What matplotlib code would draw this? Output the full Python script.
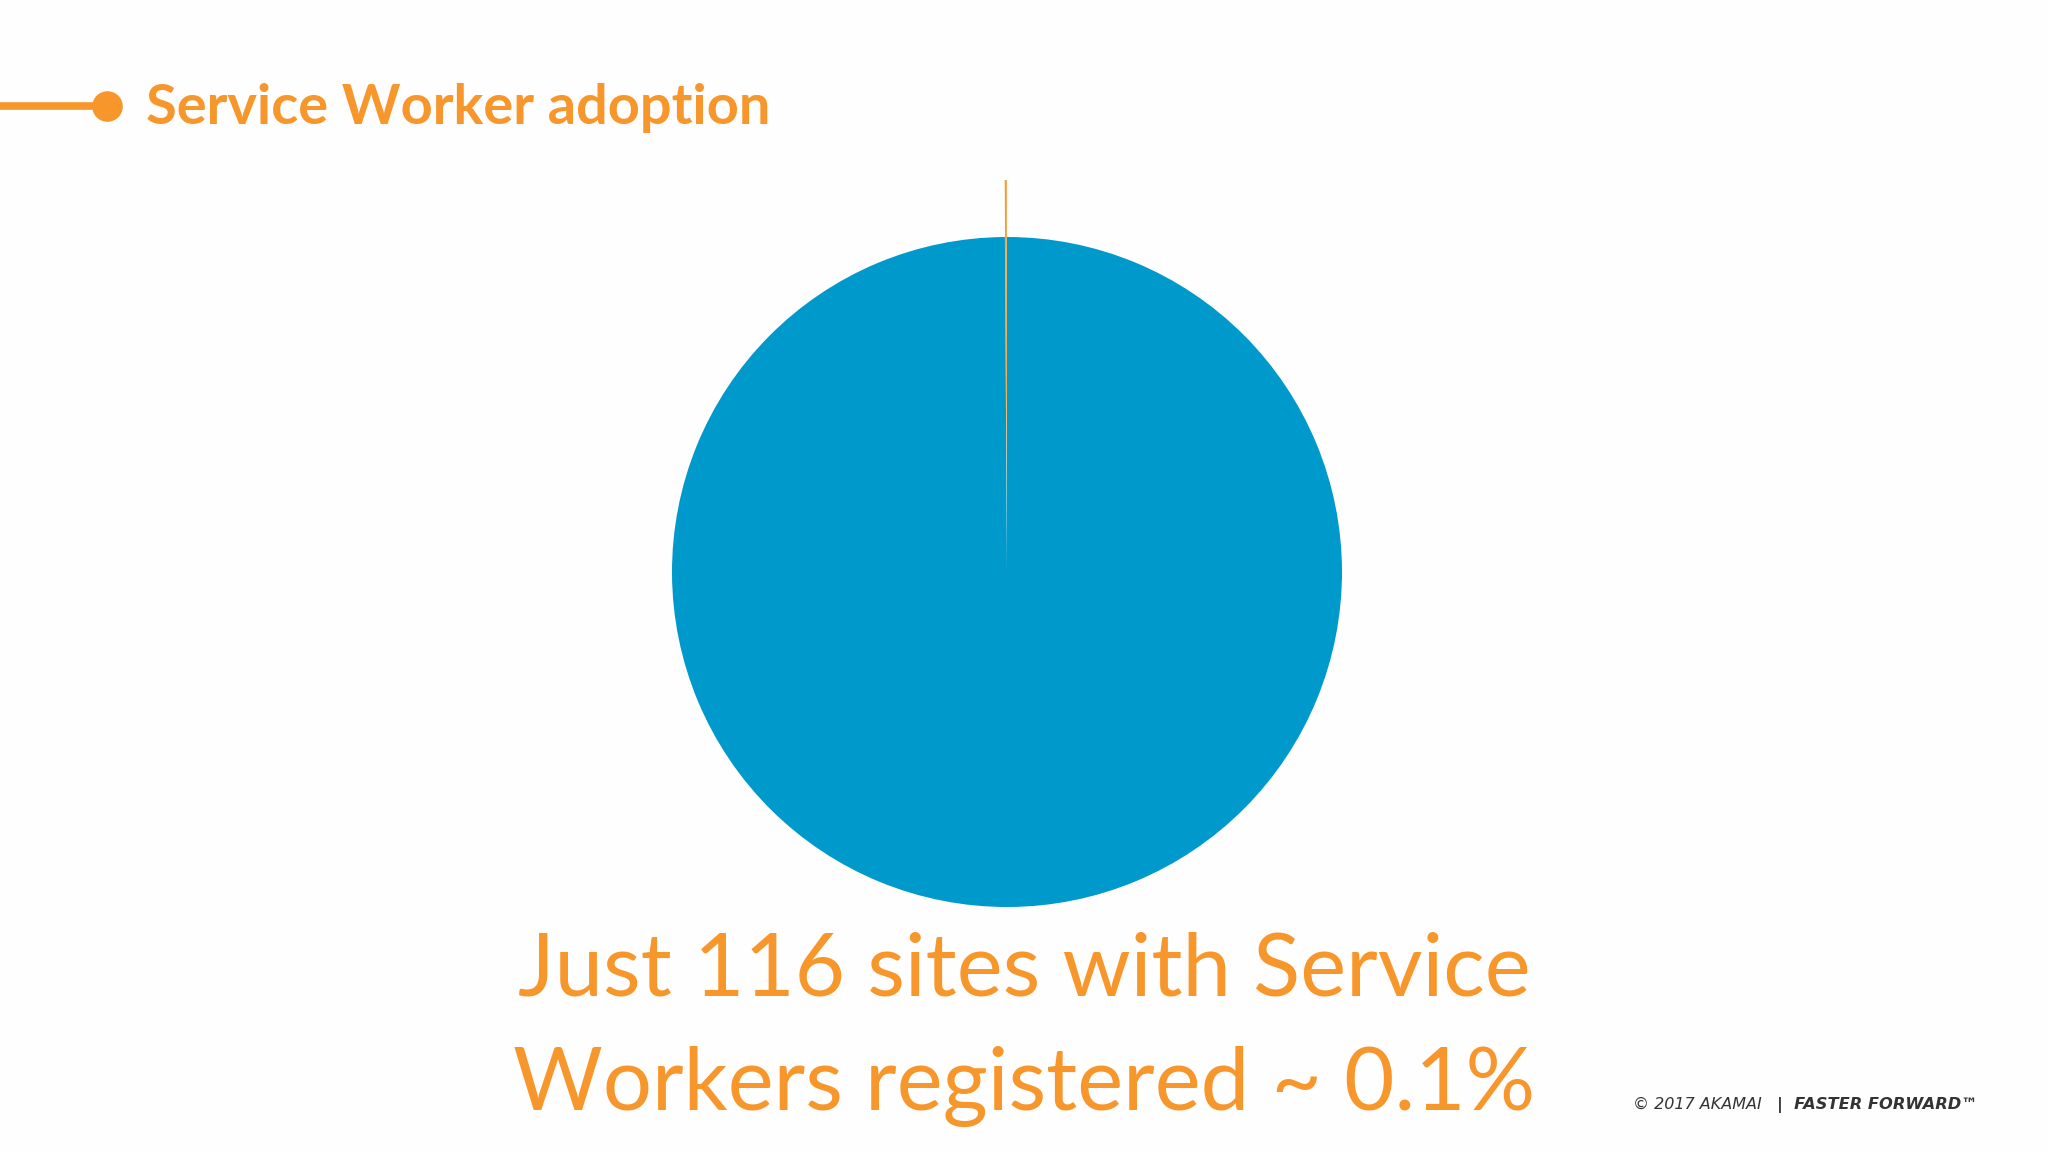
import matplotlib.pyplot as plt
from matplotlib.lines import Line2D

# data
labels = ['Service Worker sites', 'Other sites']
sites = [116, 115884]          # 116 sites ~ 0.1%
colors = ['#F7992B', '#0099CC']
explode = [0.17, 0]

title = 'Service Worker adoption'
caption = ['Just 116 sites with Service', 'Workers registered ~ 0.1%']
orange = '#F7962A'

W, H = 2048, 1152
fig = plt.figure(figsize=(20.48, 11.52), dpi=100, facecolor='#FEFEFE')

# pie: centre (1007, 572) px, radius 335 px
cx, cy, r, half = 1007, 572, 335, 450
ax = fig.add_axes([(cx - half) / W, (H - cy - half) / H, 2 * half / W, 2 * half / H])
ax.pie(sites, colors=colors, explode=explode, startangle=90, counterclock=True,
       radius=1, wedgeprops=dict(linewidth=0))
lim = half / r
ax.set_xlim(-lim, lim)
ax.set_ylim(-lim, lim)
ax.set_aspect('equal')
ax.axis('off')

# title bar with dot
fig.add_artist(Line2D([0, 107 / W], [1 - 106 / H, 1 - 106 / H], color=orange, lw=5.5,
                      transform=fig.transFigure))
fig.add_artist(Line2D([107 / W], [1 - 106 / H], marker='o', markersize=21, color=orange,
                      transform=fig.transFigure))
fig.text(146 / W, 1 - 124 / H, title, fontsize=40.3, fontweight='bold', color=orange,
         family='Lato', ha='left', va='baseline')

# caption, two lines
for txt, yb in zip(caption, [995, 1110]):
    fig.text(1024 / W, 1 - yb / H, txt, fontsize=62.5, color=orange, family='Lato',
             ha='center', va='baseline')

# footer
fig.text(1633 / W, 1 - 1109 / H, '\u00a9 2017 AKAMAI', fontsize=11.5, style='italic',
         color='#333333', family='DejaVu Sans', ha='left', va='baseline')
fig.text(1777 / W, 1 - 1109 / H, '|  FASTER FORWARD\u2122', fontsize=11.7, style='italic',
         fontweight='bold', color='#333333', family='DejaVu Sans', ha='left', va='baseline')

fig.savefig('out.png', dpi=100, facecolor=fig.get_facecolor())
